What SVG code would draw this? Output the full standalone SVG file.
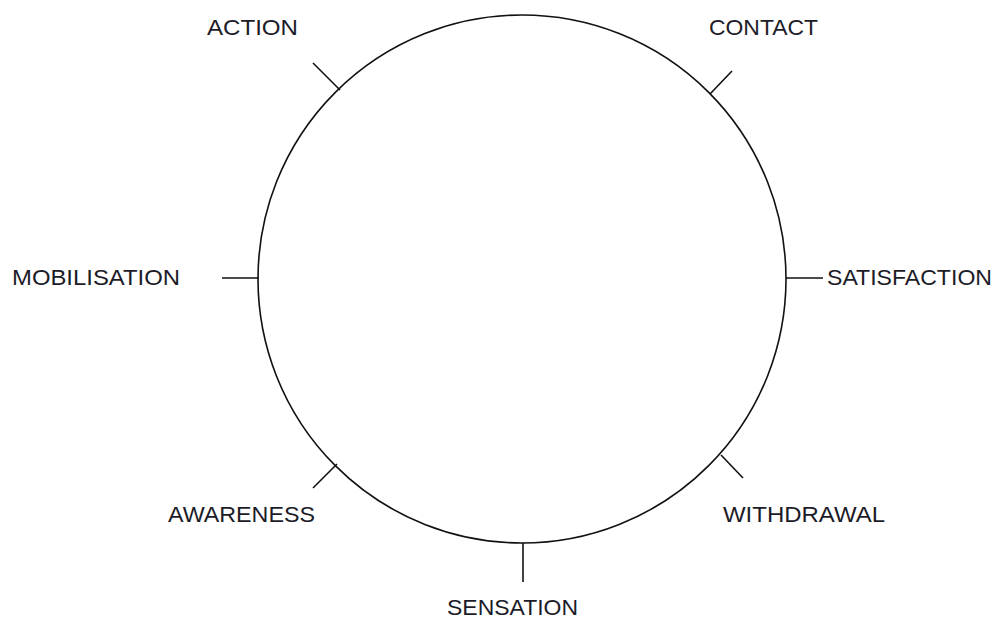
<svg xmlns="http://www.w3.org/2000/svg" width="994" height="621" viewBox="0 0 994 621">
<style>
.lbl{font-family:"Liberation Sans",Arial,sans-serif;font-size:22px;fill:#1c1c28;}
.ln{stroke:#111;stroke-width:1.6;fill:none;}
</style>
<rect width="994" height="621" fill="#fff"/>
<g id="cycle">
<circle class="ln" cx="522" cy="279" r="264"/>
</g>
<g id="connectors">
<line class="ln" x1="313" y1="63" x2="340" y2="90"/>
<line class="ln" x1="732" y1="71" x2="710" y2="94"/>
<line class="ln" x1="222" y1="278" x2="259" y2="278"/>
<line class="ln" x1="786" y1="278" x2="823" y2="278"/>
<line class="ln" x1="313" y1="488" x2="337" y2="464"/>
<line class="ln" x1="721" y1="455" x2="743" y2="478"/>
<line class="ln" x1="523" y1="543" x2="523" y2="582"/>
</g>
<g id="action"><text class="lbl" x="207" y="35" textLength="91" lengthAdjust="spacingAndGlyphs">ACTION</text></g>
<g id="contact"><text class="lbl" x="709" y="35" textLength="109" lengthAdjust="spacingAndGlyphs">CONTACT</text></g>
<g id="mobilisation"><text class="lbl" x="12" y="285" textLength="168" lengthAdjust="spacingAndGlyphs">MOBILISATION</text></g>
<g id="satisfaction"><text class="lbl" x="827" y="285" textLength="165" lengthAdjust="spacingAndGlyphs">SATISFACTION</text></g>
<g id="awareness"><text class="lbl" x="168" y="522" textLength="147" lengthAdjust="spacingAndGlyphs">AWARENESS</text></g>
<g id="withdrawal"><text class="lbl" x="723" y="522" textLength="162" lengthAdjust="spacingAndGlyphs">WITHDRAWAL</text></g>
<g id="sensation"><text class="lbl" x="447" y="615" textLength="131" lengthAdjust="spacingAndGlyphs">SENSATION</text></g>
</svg>
